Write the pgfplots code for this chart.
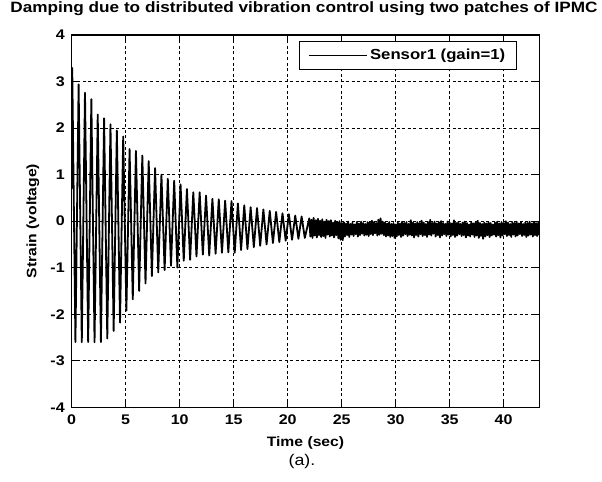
\documentclass[border=0pt]{standalone}
\usepackage{fontspec}
\setmainfont{Liberation Sans}[FakeStretch=1.15]
\usepackage{pgfplots}
\pgfplotsset{compat=1.18}
\usepackage{pgfplotstable}

\pgfplotstableread{
t y
0 0.70
0.05 3.29
0.345 -2.60
0.64 2.94
0.935 -2.60
1.23 2.76
1.525 -2.60
1.82 2.62
2.115 -2.60
2.41 2.29
2.705 -2.60
3.00 2.21
3.295 -2.52
3.59 2.08
3.885 -2.36
4.18 1.95
4.475 -2.18
4.77 1.82
5.065 -1.92
5.36 1.55
5.655 -1.68
5.95 1.51
6.245 -1.50
6.54 1.41
6.835 -1.34
7.13 1.29
7.425 -1.18
7.72 1.14
8.015 -1.10
8.31 1.00
8.605 -1.05
8.90 0.91
9.195 -0.96
9.49 0.87
9.785 -1.00
10.08 0.79
10.375 -0.85
10.67 0.69
10.965 -0.83
11.26 0.62
11.555 -0.76
11.85 0.62
12.145 -0.72
12.44 0.55
12.735 -0.74
13.03 0.48
13.325 -0.70
13.62 0.47
13.915 -0.68
14.21 0.44
14.505 -0.67
14.80 0.43
15.095 -0.68
15.39 0.38
15.685 -0.62
15.98 0.34
16.275 -0.60
16.57 0.30
16.865 -0.56
17.16 0.28
17.455 -0.53
17.75 0.25
18.045 -0.50
18.34 0.22
18.635 -0.47
18.93 0.20
19.225 -0.45
19.52 0.17
19.815 -0.42
20.11 0.15
20.405 -0.40
20.70 0.12
20.995 -0.38
21.29 0.10
21.585 -0.36
22.0 0.06
22.1 -0.33
22.2 0.03
22.3 -0.36
22.4 0.07
22.5 -0.31
22.6 0.02
22.7 -0.35
22.8 0.05
22.9 -0.30
23.0 0.01
23.1 -0.34
23.2 0.04
23.3 -0.32
23.4 -0.01
23.5 -0.36
23.6 0.03
23.7 -0.29
23.8 0.00
23.9 -0.33
24.0 0.02
24.1 -0.31
24.2 -0.03
24.3 -0.35
24.4 0.01
24.5 -0.30
24.6 -0.02
24.7 -0.37
24.8 0.00
24.9 -0.40
25.0 -0.04
25.1 -0.41
25.2 -0.02
25.3 -0.33
25.4 -0.05
25.5 -0.30
25.6 -0.01
25.7 -0.34
25.8 -0.06
25.9 -0.29
26.0 -0.03
26.1 -0.32
26.2 -0.07
26.3 -0.28
26.4 -0.02
26.5 -0.33
26.6 -0.05
26.7 -0.30
26.8 -0.01
26.9 -0.27
27.0 -0.04
27.1 -0.31
27.2 -0.06
27.3 -0.29
27.4 -0.02
27.5 -0.32
27.6 -0.03
27.7 -0.28
27.8 0.01
27.9 -0.30
28.0 -0.02
28.1 -0.26
28.2 -0.04
28.3 -0.31
28.4 0.03
28.5 -0.29
28.6 0.06
28.7 -0.27
28.8 -0.01
28.9 -0.30
29.0 -0.03
29.1 -0.33
29.2 -0.05
29.3 -0.31
29.4 -0.02
29.5 -0.34
29.6 -0.06
29.7 -0.32
29.8 -0.04
29.9 -0.36
30.0 -0.07
30.1 -0.33
30.2 -0.03
30.3 -0.30
30.4 -0.05
30.5 -0.34
30.6 -0.01
30.7 -0.31
30.8 -0.04
30.9 -0.28
31.0 -0.02
31.1 -0.32
31.2 -0.06
31.3 -0.29
31.4 0.02
31.5 -0.31
31.6 -0.03
31.7 -0.35
31.8 -0.05
31.9 -0.30
32.0 -0.02
32.1 -0.33
32.2 -0.04
32.3 -0.28
32.4 0.01
32.5 -0.32
32.6 -0.03
32.7 -0.30
32.8 -0.06
32.9 -0.34
33.0 -0.02
33.1 -0.29
33.2 0.03
33.3 -0.31
33.4 -0.04
33.5 -0.27
33.6 -0.01
33.7 -0.33
33.8 -0.05
33.9 -0.30
34.0 -0.02
34.1 -0.35
34.2 0.00
34.3 -0.31
34.4 -0.04
34.5 -0.28
34.6 -0.06
34.7 -0.32
34.8 -0.01
34.9 -0.29
35.0 -0.03
35.1 -0.33
35.2 -0.05
35.3 -0.30
35.4 0.02
35.5 -0.34
35.6 -0.04
35.7 -0.31
35.8 -0.02
35.9 -0.28
36.0 -0.06
36.1 -0.32
36.2 -0.03
36.3 -0.30
36.4 -0.01
36.5 -0.35
36.6 -0.04
36.7 -0.31
36.8 -0.07
36.9 -0.33
37.0 -0.02
37.1 -0.29
37.2 -0.05
37.3 -0.34
37.4 -0.03
37.5 -0.31
37.6 0.01
37.7 -0.36
37.8 -0.04
37.9 -0.32
38.0 -0.06
38.1 -0.38
38.2 -0.03
38.3 -0.33
38.4 -0.05
38.5 -0.30
38.6 -0.02
38.7 -0.34
38.8 -0.04
38.9 -0.31
39.0 -0.07
39.1 -0.29
39.2 -0.03
39.3 -0.33
39.4 -0.01
39.5 -0.30
39.6 -0.05
39.7 -0.35
39.8 -0.02
39.9 -0.31
40.0 -0.04
40.1 -0.28
40.2 0.00
40.3 -0.32
40.4 -0.03
40.5 -0.30
40.6 -0.06
40.7 -0.34
40.8 -0.02
40.9 -0.29
41.0 -0.04
41.1 -0.33
41.2 -0.01
41.3 -0.31
41.4 -0.05
41.5 -0.28
41.6 -0.02
41.7 -0.32
41.8 -0.06
41.9 -0.30
42.0 -0.03
42.1 -0.34
42.2 -0.04
42.3 -0.31
42.4 -0.01
42.5 -0.29
42.6 -0.05
42.7 -0.33
42.8 -0.02
42.9 -0.30
43.0 -0.04
43.1 -0.32
43.2 -0.03
43.3 -0.30
}\sensor

\begin{document}
\begin{tikzpicture}
\useasboundingbox (-71.7bp,-74.7bp) rectangle (530.3bp,407.3bp);
\begin{axis}[
  scale only axis,
  width=467.6bp, height=372.3bp,
  xmin=0, xmax=43.3, ymin=-4, ymax=4,
  xtick={0,5,10,15,20,25,30,35,40},
  xticklabels={0,5,10,15,20,25,30,35,40},
  ytick={-4,-3,-2,-1,0,1,2,3,4},
  yticklabels={-4,-3,-2,-1,0,1,2,3,4},
  xtick pos=both, ytick pos=both,
  tick align=inside,
  major tick length=6bp,
  every tick/.style={black, line width=0.8bp},
  axis line style={black, line width=1.1bp},
  grid=major,
  major grid style={black, line width=0.7bp, dash pattern=on 3bp off 2.6bp},
  ticklabel style={font=\bfseries\fontsize{14}{14}\selectfont},
  xticklabel style={yshift=-4bp},
  yticklabel style={xshift=-3.5bp},
  xlabel={Time (sec)},
  ylabel={Strain (voltage)},
  xlabel style={font=\bfseries\fontsize{13.7}{14}\selectfont, at={(axis description cs:0.5,-0.0967)}, anchor=center},
  ylabel style={font=\bfseries\fontsize{13.7}{14}\selectfont, at={(axis description cs:-0.0828,0.5)}, anchor=center},
  title={Damping due to distributed vibration control using two patches of IPMC},
  title style={font=\bfseries\fontsize{15}{15}\selectfont, at={(axis description cs:0.4968,1.0537)}, anchor=center},
  legend style={at={(axis description cs:1,1)}, anchor=north east, xshift=-22.6bp, yshift=-6bp,
    draw=black, line width=0.8bp, font=\bfseries\fontsize{14.6}{15}\selectfont,
    inner xsep=9bp, inner ysep=6bp},
  legend image code/.code={\path (0bp,0bp) -- (58bp,0bp);\draw[black, line width=0.8bp] (0bp,0bp) -- (51bp,0bp);},
]
\addplot[black, line width=1.8bp, line join=round] table[x=t, y=y] {\sensor};
\addlegendentry{Sensor1 (gain=1)}
\end{axis}
\node[font=\fontsize{15.5}{16}\selectfont, anchor=center] at (230.3bp,-54.7bp) {(a).};
\end{tikzpicture}
\end{document}
